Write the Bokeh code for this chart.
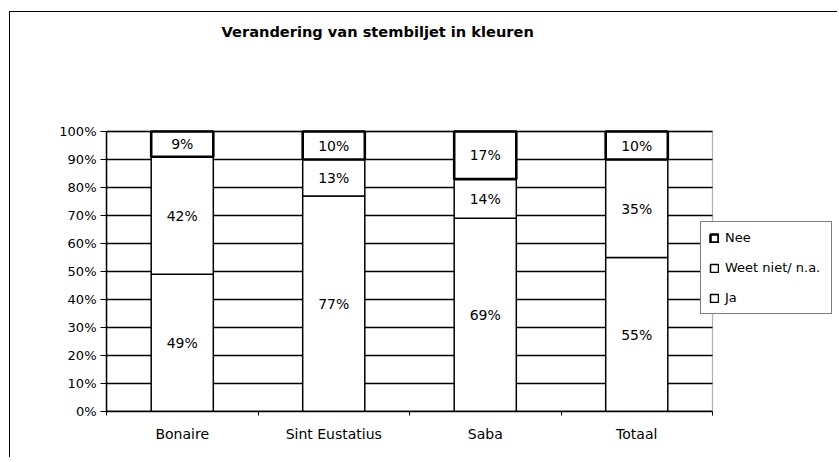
from bokeh.plotting import figure
from bokeh.models import (ColumnDataSource, Range1d, FixedTicker, Legend, LegendItem,
                          Label, BoxAnnotation)
from bokeh.core.properties import value
from bokeh.embed import file_html
from bokeh.resources import INLINE

# ---- data ----
categories = ["Bonaire", "Sint Eustatius", "Saba", "Totaal"]
ja = [49, 77, 69, 55]
weet_niet = [42, 13, 14, 35]
nee = [9, 10, 17, 10]
series_names = ["Ja", "Weet niet/ n.a.", "Nee"]
y_ticks = [0, 10, 20, 30, 40, 50, 60, 70, 80, 90, 100]
y_tick_labels = ["0%", "10%", "20%", "30%", "40%", "50%", "60%", "70%", "80%", "90%", "100%"]
title_text = "Verandering van stembiljet in kleuren"

FONT = "DejaVu Sans"

# ---- layout constants (pixels) ----
FIG_W, FIG_H = 828, 446
BORDER_L, BORDER_B = 96, 47
PX_PER_CAT = 151.5          # width of one category slot
PX_PER_PCT = 2.8            # height of 1 %
frame_w = FIG_W - BORDER_L
frame_h = FIG_H - BORDER_B
n = len(categories)
x_pos = [i + 0.5 for i in range(n)]

source = ColumnDataSource(dict(x=x_pos, ja=ja, weet=weet_niet, nee=nee))

p = figure(x_range=Range1d(0, frame_w / PX_PER_CAT),
           y_range=Range1d(0, frame_h / PX_PER_PCT),
           width=FIG_W, height=FIG_H,
           output_backend="svg", toolbar_location=None, tools="",
           min_border_left=BORDER_L, min_border_right=0,
           min_border_top=0, min_border_bottom=BORDER_B)
p.styles = {"border-left": "1px solid black", "border-top": "1px solid black",
            "margin-left": "9px", "margin-top": "11px"}

p.background_fill_color = "white"
p.border_fill_color = "white"
p.outline_line_color = None
p.xgrid.grid_line_color = None
p.ygrid.grid_line_color = None

# gridlines across the plot area only
p.segment(x0=[0] * len(y_ticks), x1=[n] * len(y_ticks), y0=y_ticks, y1=y_ticks,
          line_color="black", line_width=1.3, level="underlay")
# plot-area border
p.add_layout(BoxAnnotation(left=0, right=n, bottom=0, top=100, fill_alpha=0,
                           line_color="black", line_width=1.3))

# y axis
p.yaxis.ticker = FixedTicker(ticks=y_ticks)
p.yaxis.bounds = (0, 100)
p.yaxis.major_label_overrides = {t: l for t, l in zip(y_ticks, y_tick_labels)}
p.yaxis.major_label_text_font = FONT
p.yaxis.major_label_text_font_size = "13px"
p.yaxis.major_label_text_color = "black"
p.yaxis.axis_line_color = "black"
p.yaxis.axis_line_width = 1.5
p.yaxis.major_tick_line_color = "black"
p.yaxis.major_tick_out = 6
p.yaxis.major_tick_in = 0
p.yaxis.minor_tick_line_color = None
p.yaxis.major_label_standoff = 4

# x axis (categories)
p.xaxis.ticker = FixedTicker(ticks=x_pos, minor_ticks=list(range(n + 1)))
p.xaxis.bounds = (0, n)
p.xaxis.major_label_overrides = {x: c for x, c in zip(x_pos, categories)}
p.xaxis.major_label_text_font = FONT
p.xaxis.major_label_text_font_size = "14px"
p.xaxis.major_label_text_color = "black"
p.xaxis.axis_line_color = "black"
p.xaxis.axis_line_width = 1.5
p.xaxis.major_tick_line_color = None
p.xaxis.minor_tick_line_color = "black"
p.xaxis.minor_tick_out = 4
p.xaxis.minor_tick_in = 0
p.xaxis.major_label_standoff = 8

# bars
renderers = p.vbar_stack(["ja", "weet", "nee"], x="x", width=0.41, source=source,
                         fill_color="white", line_color="black",
                         line_width=[1.5, 1.5, 2.6])

# data labels at segment midpoints
lab_x, lab_y, lab_t = [], [], []
for xp, a, w, nn in zip(x_pos, ja, weet_niet, nee):
    lab_x += [xp, xp, xp]
    lab_y += [a / 2, a + w / 2, a + w + nn / 2]
    lab_t += [f"{a}%", f"{w}%", f"{nn}%"]
lsrc = ColumnDataSource(dict(x=lab_x, y=lab_y, t=lab_t))
p.text(x="x", y="y", text="t", source=lsrc, text_align="center",
       text_baseline="middle", text_font=value(FONT), text_font_size="14px",
       text_color="black")

# title
p.add_layout(Label(x=1.79, y=135.7, text=title_text, text_align="center",
                   text_baseline="middle", text_font=FONT, text_font_style="bold",
                   text_font_size="14.6px", text_color="black"))

# legend
legend = Legend(items=[LegendItem(label=series_names[2], renderers=[renderers[2]]),
                       LegendItem(label=series_names[1], renderers=[renderers[1]]),
                       LegendItem(label=series_names[0], renderers=[renderers[0]])],
                location=(594, 97))
legend.border_line_color = "black"
legend.border_line_width = 1.3
legend.background_fill_color = "white"
legend.background_fill_alpha = 1
legend.label_text_font = FONT
legend.label_text_font_size = "13px"
legend.label_text_color = "black"
legend.glyph_width = 10
legend.glyph_height = 10
legend.label_height = 14
legend.label_width = 98
legend.spacing = 15
legend.padding = 8
legend.margin = 0
legend.label_standoff = 6
p.add_layout(legend, "center")

open("out.html", "w").write(file_html(p, INLINE))
